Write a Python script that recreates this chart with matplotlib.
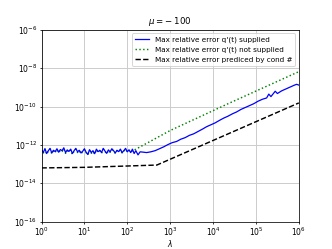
import numpy as np
import matplotlib
matplotlib.use("Agg")
import matplotlib.pyplot as plt

# log10(lambda) and log10(error)
noise_x = [0.00, 0.04, 0.08, 0.12, 0.16, 0.20, 0.24, 0.28, 0.32, 0.36,
           0.40, 0.44, 0.48, 0.52, 0.56, 0.60, 0.64, 0.68, 0.72, 0.76,
           0.80, 0.84, 0.88, 0.92, 0.96, 1.00, 1.04, 1.08, 1.12, 1.16,
           1.20, 1.24, 1.28, 1.32, 1.36, 1.40, 1.44, 1.48, 1.52, 1.56,
           1.60, 1.64, 1.68, 1.72, 1.76, 1.80, 1.84, 1.88, 1.92, 1.96,
           2.00, 2.04, 2.08]
blue_noise = [-12.25, -12.40, -12.20, -12.45, -12.30, -12.18, -12.42, -12.28, -12.35, -12.20,
              -12.38, -12.24, -12.30, -12.15, -12.40, -12.26, -12.34, -12.22, -12.45, -12.30,
              -12.18, -12.36, -12.28, -12.42, -12.33, -12.20, -12.38, -12.50, -12.25, -12.40,
              -12.30, -12.46, -12.22, -12.35, -12.28, -12.40, -12.18, -12.32, -12.44, -12.26,
              -12.36, -12.20, -12.30, -12.42, -12.28, -12.35, -12.22, -12.40, -12.30, -12.18,
              -12.36, -12.26, -12.40]
green_noise = [-12.28, -12.45, -12.22, -12.48, -12.32, -12.22, -12.46, -12.30, -12.38, -12.24,
               -12.40, -12.28, -12.34, -12.20, -12.44, -12.30, -12.36, -12.26, -12.50, -12.32,
               -12.22, -12.40, -12.30, -12.46, -12.36, -12.24, -12.40, -12.52, -12.28, -12.44,
               -12.34, -12.48, -12.26, -12.38, -12.30, -12.44, -12.22, -12.34, -12.46, -12.30,
               -12.38, -12.24, -12.32, -12.44, -12.30, -12.36, -12.26, -12.42, -12.32, -12.22,
               -12.36, -12.28, -12.38]

blue_rise_x = [2.12, 2.16, 2.20, 2.25, 2.30, 2.38, 2.45, 2.55, 2.65, 2.75, 2.85, 2.95,
               3.05, 3.15, 3.25, 3.35, 3.45, 3.55, 3.65, 3.75, 3.85, 3.95, 4.05, 4.15,
               4.25, 4.35, 4.45, 4.55, 4.65, 4.75, 4.85, 4.95, 5.05, 5.15, 5.25, 5.30,
               5.35, 5.45, 5.50, 5.60, 5.70, 5.80, 5.90, 5.95, 6.00]
blue_rise = [-12.22, -12.45, -12.30, -12.52, -12.36, -12.38, -12.40, -12.36, -12.30, -12.20,
             -12.10, -11.98, -11.88, -11.82, -11.70, -11.62, -11.50, -11.42, -11.30, -11.18,
             -11.05, -10.95, -10.85, -10.72, -10.60, -10.50, -10.38, -10.28, -10.15, -10.05,
             -9.95, -9.85, -9.72, -9.62, -9.55, -9.35, -9.48, -9.20, -9.32, -9.18,
             -9.08, -8.98, -8.88, -8.84, -8.88]

green_rise_x = [2.12, 3.00, 4.40, 6.00]
green_rise = [-12.32, -11.25, -9.80, -8.18]

cond_x = [0.0, 1.0, 2.0, 2.69, 6.0]
cond_y = [-13.20, -13.17, -13.10, -13.05, -9.81]

lam_blue = 10.0 ** np.array(noise_x + blue_rise_x)
err_blue = 10.0 ** np.array(blue_noise + blue_rise)
lam_green = 10.0 ** np.array(noise_x + green_rise_x)
err_green = 10.0 ** np.array(green_noise + green_rise)
lam_cond = 10.0 ** np.array(cond_x)
err_cond = 10.0 ** np.array(cond_y)

fig = plt.figure(figsize=(4.8, 3.6), dpi=69.17)
ax = fig.add_subplot(111)
ax.loglog(lam_green, err_green, 'g:', lw=1.5, label="Max relative error q'(t) not supplied")
ax.loglog(lam_blue, err_blue, 'b-', lw=1.3, label="Max relative error q'(t) supplied")
ax.loglog(lam_cond, err_cond, 'k--', lw=1.5, label="Max relative error prediced by cond #")
ax.set_xlim(1, 1e6)
ax.set_ylim(1e-16, 1e-6)
ax.set_yticks([1e-16, 1e-14, 1e-12, 1e-10, 1e-8, 1e-6])
ax.minorticks_off()
ax.grid(True, color='#cccccc', lw=1.0)
ax.tick_params(labelsize=8, length=2.5, pad=2)
ax.set_xlabel(r"$\lambda$", fontsize=8, labelpad=0)
ax.set_title(r"$\mu = -\;100$", fontsize=9)
h, l = ax.get_legend_handles_labels()
ax.legend([h[1], h[0], h[2]], [l[1], l[0], l[2]], loc="upper right", fontsize=7.5)
fig.savefig("out.png", dpi=69.17)
